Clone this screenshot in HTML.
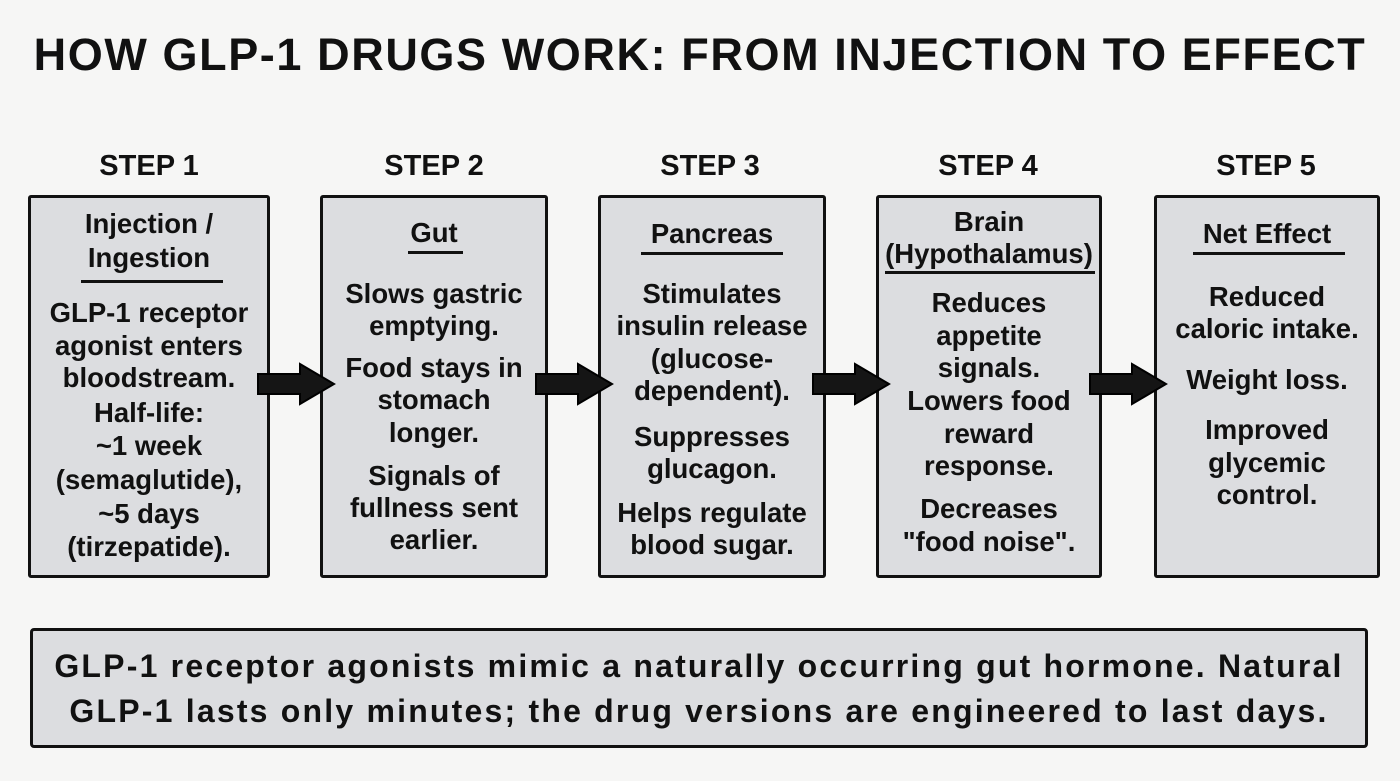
<!DOCTYPE html>
<html><head><meta charset="utf-8"><style>
body{margin:0;width:1400px;height:781px;background:#f6f6f5;font-family:"Liberation Sans",sans-serif;font-weight:bold;color:#111;position:relative;overflow:hidden}
.t{position:absolute;left:0;width:1400px;top:29px;text-align:center;font-size:45px;letter-spacing:1.6px}
.s{position:absolute;top:150px;font-size:29px;text-align:center;width:240px}
.b{position:absolute;top:195px;height:383px;background:#dcdde0;border:3px solid #111;border-radius:3px;box-sizing:border-box}
.l{position:absolute;left:-10px;right:-10px;text-align:center;font-size:27.5px;line-height:32px;white-space:nowrap}
.u{position:absolute;height:2.5px;background:#111}
.a{position:absolute;top:362px}
.f{position:absolute;left:30px;top:628px;width:1338px;height:120px;background:#dcdde0;border:3px solid #111;border-radius:4px;box-sizing:border-box}
.fl{position:absolute;left:-20px;right:-20px;text-align:center;font-size:32px;letter-spacing:2.2px;white-space:nowrap}
</style></head><body>
<div class="t">HOW GLP-1 DRUGS WORK: FROM INJECTION TO EFFECT</div>
<div class="s" style="left:29px">STEP 1</div>
<div class="s" style="left:314px">STEP 2</div>
<div class="s" style="left:590px">STEP 3</div>
<div class="s" style="left:868px">STEP 4</div>
<div class="s" style="left:1146px">STEP 5</div>

<div class="b" style="left:28px;width:242px">
<div class="l" style="top:10px">Injection /</div>
<div class="l" style="top:44px">Ingestion</div>
<div class="u" style="left:50px;width:142px;top:82px"></div>
<div class="l" style="top:99px">GLP-1 receptor</div>
<div class="l" style="top:132px">agonist enters</div>
<div class="l" style="top:164px">bloodstream.</div>
<div class="l" style="top:199px">Half-life:</div>
<div class="l" style="top:232px">~1 week</div>
<div class="l" style="top:266px">(semaglutide),</div>
<div class="l" style="top:300px">~5 days</div>
<div class="l" style="top:333px">(tirzepatide).</div>
</div>

<div class="b" style="left:320px;width:228px">
<div class="l" style="top:19px">Gut</div>
<div class="u" style="left:85px;width:55px;top:53px"></div>
<div class="l" style="top:80px">Slows gastric</div>
<div class="l" style="top:112px">emptying.</div>
<div class="l" style="top:154px">Food stays in</div>
<div class="l" style="top:186px">stomach</div>
<div class="l" style="top:219px">longer.</div>
<div class="l" style="top:262px">Signals of</div>
<div class="l" style="top:294px">fullness sent</div>
<div class="l" style="top:326px">earlier.</div>
</div>

<div class="b" style="left:598px;width:228px">
<div class="l" style="top:20px">Pancreas</div>
<div class="u" style="left:40px;width:142px;top:54px"></div>
<div class="l" style="top:80px">Stimulates</div>
<div class="l" style="top:112px">insulin release</div>
<div class="l" style="top:145px">(glucose-</div>
<div class="l" style="top:177px">dependent).</div>
<div class="l" style="top:223px">Suppresses</div>
<div class="l" style="top:255px">glucagon.</div>
<div class="l" style="top:299px">Helps regulate</div>
<div class="l" style="top:331px">blood sugar.</div>
</div>

<div class="b" style="left:876px;width:226px">
<div class="l" style="top:8px">Brain</div>
<div class="l" style="top:40px">(Hypothalamus)</div>
<div class="u" style="left:6px;width:210px;top:73px"></div>
<div class="l" style="top:89px">Reduces</div>
<div class="l" style="top:122px">appetite</div>
<div class="l" style="top:154px">signals.</div>
<div class="l" style="top:187px">Lowers food</div>
<div class="l" style="top:220px">reward</div>
<div class="l" style="top:252px">response.</div>
<div class="l" style="top:295px">Decreases</div>
<div class="l" style="top:328px">"food noise".</div>
</div>

<div class="b" style="left:1154px;width:226px">
<div class="l" style="top:20px">Net Effect</div>
<div class="u" style="left:36px;width:152px;top:54px"></div>
<div class="l" style="top:83px">Reduced</div>
<div class="l" style="top:115px">caloric intake.</div>
<div class="l" style="top:166px">Weight loss.</div>
<div class="l" style="top:216px">Improved</div>
<div class="l" style="top:249px">glycemic</div>
<div class="l" style="top:281px">control.</div>
</div>

<svg class="a" style="left:256px" width="80" height="44" viewBox="0 0 80 44"><path d="M2 12 L44 12 L44 2 L78 22 L44 42 L44 32 L2 32 Z" fill="#151515" stroke="#000" stroke-width="2"/></svg>
<svg class="a" style="left:534px" width="80" height="44" viewBox="0 0 80 44"><path d="M2 12 L44 12 L44 2 L78 22 L44 42 L44 32 L2 32 Z" fill="#151515" stroke="#000" stroke-width="2"/></svg>
<svg class="a" style="left:811px" width="80" height="44" viewBox="0 0 80 44"><path d="M2 12 L44 12 L44 2 L78 22 L44 42 L44 32 L2 32 Z" fill="#151515" stroke="#000" stroke-width="2"/></svg>
<svg class="a" style="left:1088px" width="80" height="44" viewBox="0 0 80 44"><path d="M2 12 L44 12 L44 2 L78 22 L44 42 L44 32 L2 32 Z" fill="#151515" stroke="#000" stroke-width="2"/></svg>

<div class="f">
<div class="fl" style="top:17px">GLP-1 receptor agonists mimic a naturally occurring gut hormone. Natural</div>
<div class="fl" style="top:62px">GLP-1 lasts only minutes; the drug versions are engineered to last days.</div>
</div>
</body></html>
